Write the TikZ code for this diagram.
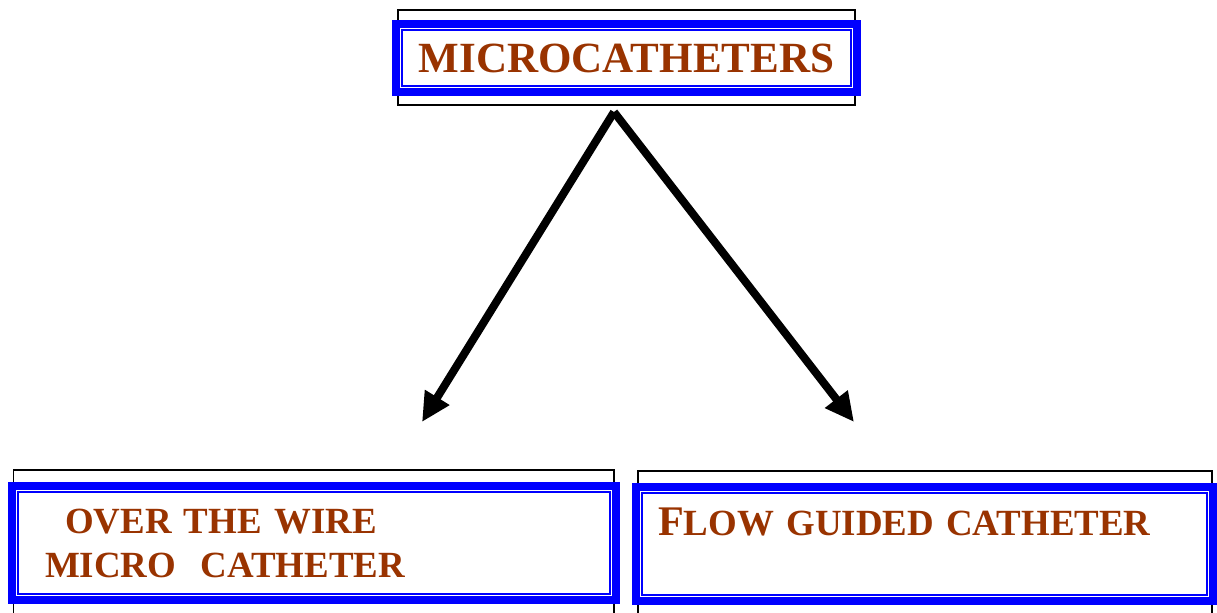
\documentclass[tikz,border=0pt]{standalone}
\usepackage{fontspec}
\setmainfont{Liberation Serif}
\usetikzlibrary{arrows.meta,backgrounds}
\definecolor{titlebrown}{RGB}{153,51,0}
\definecolor{frameblue}{RGB}{0,0,255}

\begin{document}
\begin{tikzpicture}[x=0.02cm, y=-0.02cm,
        frame/.style={draw=frameblue, line width=0.16cm, outer sep=0pt, fill=white, text=titlebrown},
        innerline/.style={draw=frameblue, line width=0.03cm},
        backbox/.style={draw=black, line width=0.03cm},
        arrow/.style={-{Triangle[length=0.58cm, width=0.54cm]}, line width=0.16cm}]

        \useasboundingbox (0,0) rectangle (1217,612);

        % Boxes
        \node[frame, minimum width=9.22cm, minimum height=1.36cm, font=\fontsize{24.5}{28}\selectfont\bfseries] (micro) at (626.5,58) {MICROCATHETERS};
        \node[frame, minimum width=12.08cm, minimum height=2.28cm, text width=10.76cm, inner xsep=0.66cm, align=left, font=\fontsize{21}{25}\selectfont\bfseries] (otw) at (314,543) {\hspace*{0.4cm}OVER THE WIRE\\MICRO~~CATHETER};
        \node[frame, minimum width=11.54cm, minimum height=2.28cm, text width=10.66cm, inner xsep=0.44cm, align=left, font=\fontsize{21}{25}\selectfont\bfseries] (flow) at (924.5,544) {{\fontsize{24}{25}\selectfont F}LOW GUIDED CATHETER\\ \mbox{}};

        % Inner frame lines
        \foreach \n in {micro, otw, flow} {
            \draw[innerline] ([shift={(0.12cm,0.12cm)}]\n.south west) rectangle ([shift={(-0.12cm,-0.12cm)}]\n.north east);
        }

        % Black outline behind the frames
        \begin{scope}[on background layer]
            \draw[backbox] ([shift={(0.04cm,-0.26cm)}]micro.south west) rectangle ([shift={(-0.04cm,0.28cm)}]micro.north east);
            \draw[backbox] ([shift={(0.03cm,-0.4cm)}]otw.south west) rectangle ([shift={(-0.04cm,0.32cm)}]otw.north east);
            \draw[backbox] ([shift={(0.04cm,-0.4cm)}]flow.south west) rectangle ([shift={(-0.02cm,0.32cm)}]flow.north east);
        \end{scope}

        % Arrows
        \coordinate (apex) at (614,112);
        \coordinate (lefttip) at (422,422);
        \coordinate (righttip) at (854,422);
        \draw[arrow] (apex) -- (lefttip);
        \draw[arrow] (apex) -- (righttip);

    \end{tikzpicture}
\end{document}
